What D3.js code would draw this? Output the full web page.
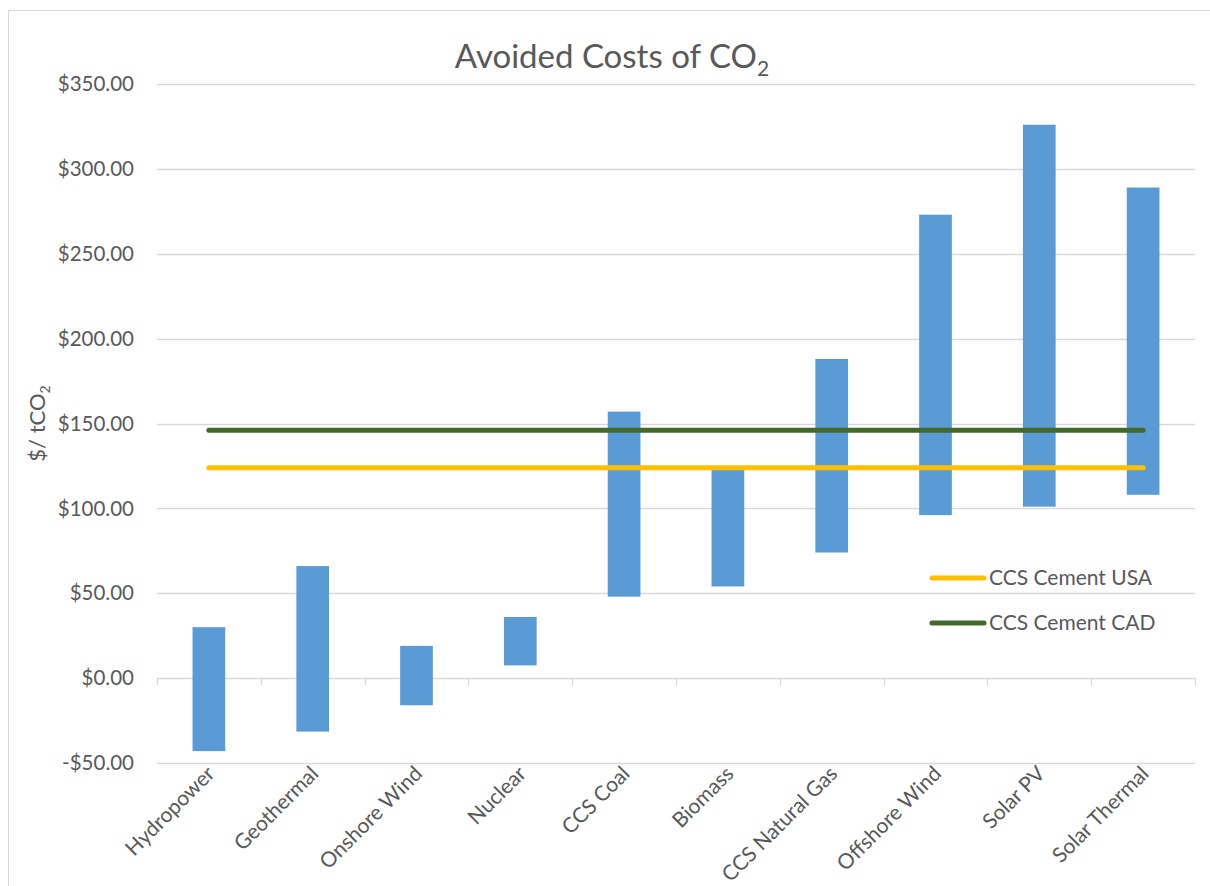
<!DOCTYPE html>
<html>
<head>
<meta charset="utf-8">
<script src="https://cdn.jsdelivr.net/npm/d3@7"></script>
<style>
  body { margin: 0; background: #fff; }
  text { font-family: Lato, "Open Sans", sans-serif; fill: #595959; }
</style>
</head>
<body>
<svg id="chart" width="1210" height="886"></svg>
<script>
const categories = ['Hydropower', 'Geothermal', 'Onshore Wind', 'Nuclear', 'CCS Coal',
  'Biomass', 'CCS Natural Gas', 'Offshore Wind', 'Solar PV', 'Solar Thermal'];
const lowValues = [-43, -31.5, -16, 7.5, 48, 54, 74, 96, 101, 108];
const highValues = [30, 66, 19, 36, 157, 124, 188, 273, 326, 289];
const cementUSA = 124;
const cementCAD = 146;
const yTicks = [-50, 0, 50, 100, 150, 200, 250, 300, 350];

const svg = d3.select('#chart');
const width = +svg.attr('width');

// chart frame
svg.append('rect')
  .attr('x', 8.5).attr('y', 10.5)
  .attr('width', width + 20).attr('height', 900)
  .attr('fill', 'none')
  .attr('stroke', '#d9d9d9');

const plotLeft = 157, plotRight = 1195, plotTop = 84, plotBottom = 763;

const xScale = d3.scaleBand()
  .domain(categories)
  .range([plotLeft, plotRight])
  .padding(0);

const yScale = d3.scaleLinear()
  .domain([-50, 350])
  .range([plotBottom, plotTop]);

// gridlines
svg.append('g')
  .selectAll('line')
  .data(yTicks)
  .enter()
    .append('line')
    .attr('x1', plotLeft)
    .attr('x2', plotRight)
    .attr('y1', (d) => Math.round(yScale(d)) + 0.5)
    .attr('y2', (d) => Math.round(yScale(d)) + 0.5)
    .attr('stroke', '#d9d9d9')
    .attr('stroke-width', 1.3);

// y tick labels
svg.append('g')
  .selectAll('text')
  .data(yTicks)
  .enter()
    .append('text')
    .attr('x', 134)
    .attr('y', (d) => yScale(d))
    .attr('dy', '0.35em')
    .attr('text-anchor', 'end')
    .attr('font-size', 20.5)
    .text((d) => (d < 0 ? '-$' : '$') + Math.abs(d).toFixed(2));

// category tick marks on the zero line
const boundaries = categories.map((c) => xScale(c)).concat([plotRight]);
svg.append('g')
  .selectAll('line')
  .data(boundaries)
  .enter()
    .append('line')
    .attr('x1', (d) => Math.round(d) + 0.5)
    .attr('x2', (d) => Math.round(d) + 0.5)
    .attr('y1', yScale(0))
    .attr('y2', yScale(0) + 7)
    .attr('stroke', '#d9d9d9')
    .attr('stroke-width', 1.3);

// floating bars
const barWidth = xScale.bandwidth() * 0.315;
svg.append('g')
  .selectAll('rect')
  .data(categories)
  .enter()
    .append('rect')
    .attr('x', (d) => xScale(d) + (xScale.bandwidth() - barWidth) / 2)
    .attr('y', (d, i) => yScale(highValues[i]))
    .attr('width', barWidth)
    .attr('height', (d, i) => yScale(lowValues[i]) - yScale(highValues[i]))
    .attr('fill', '#5b9bd5');

// x labels
svg.append('g')
  .selectAll('text')
  .data(categories)
  .enter()
    .append('text')
    .attr('transform', (d) => `translate(${xScale(d) + xScale.bandwidth() / 2 + 7},${plotBottom + 12}) rotate(-45)`)
    .attr('text-anchor', 'end')
    .attr('font-size', 21)
    .text((d) => d);

// reference lines
const cx = (d) => xScale(d) + xScale.bandwidth() / 2;
const refLines = [
  { name: 'CCS Cement USA', value: cementUSA, color: '#ffc000' },
  { name: 'CCS Cement CAD', value: cementCAD, color: '#43682b' }
];
svg.append('g')
  .selectAll('path')
  .data(refLines)
  .enter()
    .append('path')
    .attr('d', (r) => d3.line()
      .x((c) => cx(c))
      .y(() => yScale(r.value))(categories))
    .attr('fill', 'none')
    .attr('stroke', (r) => r.color)
    .attr('stroke-width', 5)
    .attr('stroke-linecap', 'round');

// legend
const legend = svg.append('g')
  .selectAll('g')
  .data(refLines)
  .enter()
    .append('g')
    .attr('transform', (d, i) => `translate(932,${578 + i * 45})`);
legend.append('line')
  .attr('x1', 0).attr('x2', 52)
  .attr('stroke', (d) => d.color)
  .attr('stroke-width', 5)
  .attr('stroke-linecap', 'round');
legend.append('text')
  .attr('x', 57)
  .attr('dy', '0.35em')
  .attr('font-size', 21)
  .text((d) => d.name);

// title
const title = svg.append('text')
  .attr('x', 612)
  .attr('y', 68)
  .attr('text-anchor', 'middle')
  .attr('font-size', 33);
title.append('tspan').text('Avoided Costs of CO');
title.append('tspan').attr('font-size', 21).attr('dy', 8).text('2');

// y axis title
const yTitle = svg.append('text')
  .attr('transform', `translate(45,${(plotTop + plotBottom) / 2}) rotate(-90)`)
  .attr('text-anchor', 'middle')
  .attr('font-size', 22);
yTitle.append('tspan').text('$/ tCO');
yTitle.append('tspan').attr('font-size', 14).attr('dy', 5).text('2');
</script>
</body>
</html>
